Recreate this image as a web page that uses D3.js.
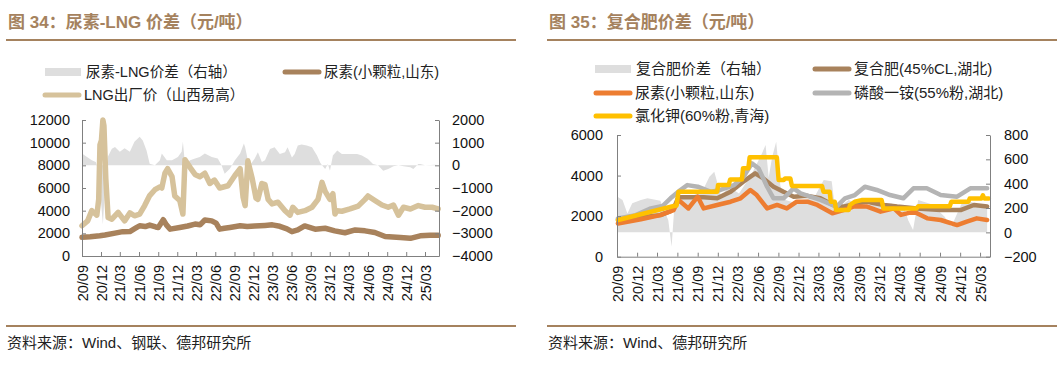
<!DOCTYPE html>
<html>
<head>
<meta charset="utf-8">
<script src="https://cdn.jsdelivr.net/npm/d3@7"></script>
<style>
  body { margin: 0; background: #fff; }
  svg text { font-family: "Liberation Sans", "Noto Sans CJK SC", sans-serif; }
  .axis path, .axis line { stroke: #808080; }
</style>
</head>
<body>
<svg id="chart" width="1063" height="366"></svg>
<script>
// ---- shared tick labels ----
var xTickLabels = ["20/09","20/12","21/03","21/06","21/09","21/12","22/03","22/06","22/09",
                   "22/12","23/03","23/06","23/09","23/12","24/03","24/06","24/09","24/12","25/03"];

// ---- figure 34: urea vs LNG ----
var leftTicks34 = [0, 2000, 4000, 6000, 8000, 10000, 12000];
var rightTicks34 = [-4000, -3000, -2000, -1000, 0, 1000, 2000];
var legendLabels34 = ["尿素-LNG价差（右轴）", "尿素(小颗粒,山东)", "LNG出厂价（山西易高）"];

var spread34 = [
  ["2020-09-01",520],["2020-09-25",370],["2020-10-18",220],["2020-11-06",150],["2020-11-20",-300],
  ["2020-11-30",-1500],["2020-12-10",-2600],["2020-12-15",-1800],["2020-12-24",-300],["2021-01-04",400],
  ["2021-01-22",735],["2021-02-06",810],["2021-03-01",600],["2021-03-24",750],["2021-04-18",600],
  ["2021-05-10",1040],["2021-06-04",1260],["2021-06-19",1100],["2021-07-07",650],["2021-07-22",75],
  ["2021-08-16",0],["2021-09-09",220],["2021-09-18",520],["2021-10-12",220],["2021-11-06",220],
  ["2021-12-04",370],["2021-12-22",600],["2021-12-28",1040],["2022-01-07",75],["2022-02-01",220],
  ["2022-02-24",300],["2022-03-19",370],["2022-04-12",520],["2022-05-15",370],["2022-06-13",300],
  ["2022-07-01",0],["2022-07-16",-370],["2022-08-10",-150],["2022-09-03",220],["2022-09-28",520],
  ["2022-10-16",960],["2022-10-22",800],["2022-11-04",220],["2022-11-14",0],["2022-12-07",300],
  ["2022-12-22",580],["2023-01-10",150],["2023-01-25",220],["2023-02-18",725],["2023-03-12",800],
  ["2023-04-06",500],["2023-05-01",580],["2023-05-13",800],["2023-06-03",350],["2023-06-16",500],
  ["2023-07-01",870],["2023-07-19",920],["2023-08-13",870],["2023-09-07",800],["2023-10-01",430],
  ["2023-10-16",130],["2023-10-25",0],["2023-11-09",-160],["2023-11-22",60],["2023-12-02",-240],
  ["2023-12-16",430],["2024-01-06",650],["2024-01-28",500],["2024-02-21",500],["2024-03-16",500],
  ["2024-04-10",500],["2024-05-03",430],["2024-06-01",280],["2024-06-25",60],["2024-07-19",0],
  ["2024-08-13",-240],["2024-09-06",-160],["2024-10-01",-40],["2024-10-25",0],["2024-11-18",-40],
  ["2024-12-21",-90],["2025-01-04",-160],["2025-01-28",60],["2025-02-06",60],["2025-03-01",0],
  ["2025-03-25",15],["2025-04-18",30],["2025-05-03",15]
];

var urea34 = [
  ["2020-09-01",1650],["2020-10-10",1700],["2020-11-25",1780],["2020-12-20",1850],["2021-02-06",2020],
  ["2021-03-15",2150],["2021-04-18",2160],["2021-05-15",2450],["2021-06-04",2670],["2021-07-01",2600],
  ["2021-07-22",2730],["2021-08-20",2560],["2021-09-01",2520],["2021-09-25",3200],["2021-10-10",2750],
  ["2021-10-28",2370],["2021-12-13",2520],["2022-01-20",2650],["2022-02-24",2820],["2022-03-20",2750],
  ["2022-04-12",3170],["2022-05-15",3100],["2022-06-05",2900],["2022-06-22",2370],["2022-07-15",2450],
  ["2022-08-10",2520],["2022-09-28",2670],["2022-11-01",2600],["2022-12-07",2640],["2023-01-25",2700],
  ["2023-03-01",2750],["2023-04-06",2620],["2023-05-10",2400],["2023-06-03",2150],["2023-07-01",2300],
  ["2023-08-03",2650],["2023-09-22",2370],["2023-11-09",2450],["2023-12-25",2220],["2024-02-12",2050],
  ["2024-04-01",2300],["2024-05-18",2220],["2024-07-04",2070],["2024-08-22",1720],["2024-11-03",1630],
  ["2024-12-21",1560],["2025-02-06",1780],["2025-03-25",1840],["2025-05-03",1820]
];

var lng34 = [
  ["2020-09-01",2670],["2020-09-28",3100],["2020-10-18",4000],["2020-11-11",3600],["2020-11-20",5000],
  ["2020-11-26",9800],["2020-12-03",10200],["2020-12-10",12000],["2020-12-15",11500],["2020-12-24",6800],
  ["2021-01-04",3400],["2021-01-22",3250],["2021-02-21",3850],["2021-03-24",3100],["2021-04-18",3800],
  ["2021-05-10",3550],["2021-06-04",3700],["2021-06-28",4450],["2021-07-22",5330],["2021-08-16",5850],
  ["2021-09-09",6100],["2021-09-18",6000],["2021-10-03",7300],["2021-10-16",7700],["2021-11-06",7000],
  ["2021-11-19",5300],["2021-12-13",4900],["2021-12-28",3700],["2022-01-07",8500],["2022-02-01",7800],
  ["2022-02-24",7200],["2022-03-19",7000],["2022-04-12",7300],["2022-05-06",6400],["2022-05-28",6700],
  ["2022-06-22",6000],["2022-08-01",6200],["2022-09-03",7100],["2022-09-28",7700],["2022-10-12",5200],
  ["2022-10-22",4440],["2022-11-04",8400],["2022-11-24",6900],["2022-12-13",5100],["2022-12-22",5000],
  ["2023-01-10",6400],["2023-01-25",6300],["2023-02-09",5000],["2023-02-28",4600],["2023-03-28",4750],
  ["2023-05-01",4000],["2023-05-25",3600],["2023-06-07",4300],["2023-07-01",3850],["2023-08-04",4000],
  ["2023-09-07",4300],["2023-10-06",5000],["2023-10-25",6500],["2023-11-09",5700],["2023-12-02",5000],
  ["2023-12-16",5500],["2023-12-26",3700],["2024-01-04",4000],["2024-01-28",3950],["2024-03-07",4150],
  ["2024-04-15",4400],["2024-05-18",5000],["2024-06-01",5300],["2024-07-04",4900],["2024-08-07",4500],
  ["2024-09-06",4300],["2024-10-01",4500],["2024-10-25",3600],["2024-11-18",4300],["2024-12-21",4150],
  ["2025-01-28",4450],["2025-03-01",4300],["2025-04-04",4300],["2025-05-03",4150]
];

// ---- figure 35: compound fertilizer ----
var leftTicks35 = [0, 2000, 4000, 6000];
var rightTicks35 = [-200, 0, 200, 400, 600, 800];
var legendLabels35 = ["复合肥价差（右轴）", "复合肥(45%CL,湖北)", "尿素(小颗粒,山东)",
                      "磷酸一铵(55%粉,湖北)", "氯化钾(60%粉,青海)"];

var spread35 = [
  ["2020-09-05",290],["2020-09-26",265],["2020-10-18",156],["2020-11-09",240],["2020-12-18",265],
  ["2021-01-17",280],["2021-03-16",260],["2021-04-21",100],["2021-05-06",-118],["2021-05-21",280],
  ["2021-06-12",293],["2021-08-10",300],["2021-09-25",348],["2021-10-24",457],["2021-11-15",498],
  ["2021-12-15",300],["2022-01-21",375],["2022-03-07",320],["2022-05-05",485],["2022-06-19",650],
  ["2022-07-05",718],["2022-07-19",450],["2022-08-04",621],["2022-08-22",745],["2022-09-10",380],
  ["2022-10-03",265],["2022-11-02",250],["2022-12-17",265],["2023-02-08",280],["2023-03-25",430],
  ["2023-04-30",420],["2023-05-16",183],["2023-07-16",265],["2023-09-13",210],["2023-11-12",238],
  ["2024-01-26",238],["2024-03-26",183],["2024-04-10",100],["2024-05-02",19],["2024-05-25",265],
  ["2024-07-24",230],["2024-09-22",128],["2024-10-22",46],["2024-12-06",230],["2025-01-20",250],
  ["2025-04-02",200]
];

var compound35 = [
  ["2020-09-05",1810],["2020-12-18",1950],["2021-03-16",2050],["2021-05-01",2250],["2021-05-20",2500],
  ["2021-06-06",2930],["2021-09-28",2930],["2021-11-28",2880],["2022-01-28",3200],["2022-03-26",3700],
  ["2022-05-19",4110],["2022-06-25",3860],["2022-08-10",3450],["2022-09-24",3200],["2022-11-09",2960],
  ["2023-01-10",3000],["2023-03-10",2880],["2023-05-07",2550],["2023-06-22",2470],["2023-08-22",2630],
  ["2023-10-07",2710],["2023-12-22",2550],["2024-02-20",2470],["2024-05-20",2380],["2024-09-04",2300],
  ["2024-12-03",2300],["2025-02-01",2550],["2025-04-02",2470]
];

var urea35 = [
  ["2020-09-05",1640],["2020-12-18",1850],["2021-03-16",2050],["2021-05-15",2300],["2021-06-06",2800],
  ["2021-07-21",2380],["2021-09-01",2960],["2021-09-28",2380],["2021-11-28",2550],["2022-01-28",2710],
  ["2022-03-14",2880],["2022-04-27",3290],["2022-05-26",3040],["2022-07-12",2380],["2022-08-26",2550],
  ["2022-10-09",2380],["2022-11-23",2710],["2023-01-10",2710],["2023-02-24",2550],["2023-05-03",2140],
  ["2023-06-22",2300],["2023-08-06",2470],["2023-10-07",2470],["2023-12-07",2220],["2024-02-06",2380],
  ["2024-03-08",2060],["2024-05-06",2220],["2024-07-05",1890],["2024-09-04",1810],["2024-11-17",1560],
  ["2024-12-31",1730],["2025-02-14",1890],["2025-04-02",1810]
];

var map35 = [
  ["2020-09-05",1890],["2020-11-25",2050],["2021-02-01",2380],["2021-03-26",2500],["2021-05-01",2880],
  ["2021-06-15",3290],["2021-07-16",3530],["2021-09-01",3450],["2021-10-31",3200],["2021-12-13",3290],
  ["2022-02-12",3530],["2022-03-28",3950],["2022-05-04",4600],["2022-06-03",4360],["2022-07-12",3450],
  ["2022-08-10",2880],["2022-09-24",2880],["2022-11-09",3370],["2022-12-10",3120],["2023-03-10",2800],
  ["2023-05-22",2470],["2023-06-29",2880],["2023-08-13",3040],["2023-09-27",3450],["2023-11-20",3290],
  ["2024-01-19",3040],["2024-03-19",2880],["2024-05-04",3370],["2024-07-03",3370],["2024-09-04",3040],
  ["2024-11-17",2960],["2025-01-16",3370],["2025-04-02",3370]
];

var kcl35 = [
  ["2020-09-06",1810],["2021-05-16",2500],["2021-05-28",2520],["2021-06-06",3200],["2021-11-28",3200],
  ["2021-12-02",3530],["2022-01-19",3530],["2022-01-26",3810],["2022-03-20",3810],["2022-03-25",4360],
  ["2022-04-18",4360],["2022-04-24",4900],["2022-08-25",4900],["2022-09-02",3780],["2022-09-25",3780],
  ["2022-10-01",3860],["2022-10-25",3860],["2022-11-01",3490],["2023-03-17",3490],["2023-03-24",3200],
  ["2023-04-21",3200],["2023-04-26",2710],["2023-05-14",2710],["2023-05-20",2300],["2023-07-16",2300],
  ["2023-07-22",2550],["2023-08-12",2710],["2023-09-12",2790],["2023-12-12",2790],["2023-12-20",2380],
  ["2024-05-18",2380],["2024-05-26",2490],["2024-10-15",2490],["2024-10-22",2710],["2025-01-07",2710],
  ["2025-01-13",2870],["2025-03-07",2870],["2025-03-14",3030],["2025-03-20",2870],["2025-04-10",2870]
];

// ---------------------------------------------------------------
var TITLE_COLOR = "#a5825e";
var parseDate = d3.timeParse("%Y-%m-%d");
var parseTick = d3.timeParse("%y/%m");
var svg = d3.select("#chart");

function drawPanel(p) {
	var g = svg.append("g");

	// title and rules
	g.append("text")
		.attr("x", p.titleX)
		.attr("y", 28)
		.attr("fill", TITLE_COLOR)
		.attr("font-size", 17)
		.attr("font-weight", "bold")
		.text(p.title);
	g.append("line")
		.attr("x1", p.ruleX[0]).attr("x2", p.ruleX[1])
		.attr("y1", 40).attr("y2", 40)
		.attr("stroke", TITLE_COLOR).attr("stroke-width", 2);
	g.append("line")
		.attr("x1", p.ruleX[0]).attr("x2", p.ruleX[1])
		.attr("y1", 326).attr("y2", 326)
		.attr("stroke", TITLE_COLOR).attr("stroke-width", 2);
	g.append("text")
		.attr("x", p.titleX - 1)
		.attr("y", 348)
		.attr("fill", "#222")
		.attr("font-size", 15)
		.text(p.source);

	// scales
	var x = d3.scaleTime().domain(p.xDomain.map(parseDate)).range([p.left, p.right]);
	var yL = d3.scaleLinear().domain(p.leftDomain).range([p.bottom, p.top]);
	var yR = d3.scaleLinear().domain(p.rightDomain).range([p.bottom, p.top]);

	// spread area on right axis
	var area = d3.area()
		.x(function(d) { return x(parseDate(d[0])); })
		.y0(yR(0))
		.y1(function(d) { return yR(d[1]); });
	g.append("path")
		.datum(p.spread)
		.attr("d", area)
		.attr("fill", "#dedede");

	// price lines on left axis
	var line = d3.line()
		.x(function(d) { return x(parseDate(d[0])); })
		.y(function(d) { return yL(d[1]); });
	p.lines.forEach(function(s) {
		g.append("path")
			.datum(s.data)
			.attr("d", line)
			.attr("fill", "none")
			.attr("stroke", s.color)
			.attr("stroke-width", s.width)
			.attr("stroke-linejoin", "round")
			.attr("stroke-linecap", "round");
	});

	// axes
	var ax = g.append("g").attr("class", "axis")
		.attr("transform", "translate(0," + p.bottom + ")")
		.call(d3.axisBottom(x)
			.tickValues(xTickLabels.map(parseTick))
			.tickFormat(d3.timeFormat("%y/%m"))
			.tickSize(-4).tickSizeOuter(0));
	ax.selectAll("text")
		.attr("transform", "rotate(-90)")
		.attr("x", -9).attr("y", 0).attr("dy", "0.35em")
		.attr("text-anchor", "end");

	g.append("g").attr("class", "axis")
		.attr("transform", "translate(" + p.left + ",0)")
		.call(d3.axisLeft(yL).tickValues(p.leftTicks).tickFormat(d3.format("d"))
			.tickSize(-4).tickSizeOuter(0).tickPadding(p.padL));
	g.append("g").attr("class", "axis")
		.attr("transform", "translate(" + p.right + ",0)")
		.call(d3.axisRight(yR).tickValues(p.rightTicks).tickFormat(d3.format("d"))
			.tickSize(-4).tickSizeOuter(0).tickPadding(p.padR));

	g.selectAll(".axis text")
		.attr("font-size", 14.5)
		.attr("fill", "#111")
		.style("font-family", '"Liberation Sans", sans-serif');

	// legend
	p.legend.forEach(function(l) {
		if (l.kind == "area") {
			g.append("rect")
				.attr("x", l.x).attr("y", l.y - 4)
				.attr("width", 36).attr("height", 8)
				.attr("fill", "#dedede");
		} else {
			g.append("line")
				.attr("x1", l.x + 2).attr("x2", l.x + 36)
				.attr("y1", l.y).attr("y2", l.y)
				.attr("stroke", l.color).attr("stroke-width", 5)
				.attr("stroke-linecap", "round");
		}
		g.append("text")
			.attr("x", l.x + 41)
			.attr("y", l.y)
			.attr("dy", "0.36em")
			.attr("font-size", p.legendSize)
			.attr("fill", "#222")
			.text(l.label);
	});
}

drawPanel({
	title: "图 34：尿素-LNG 价差（元/吨）",
	source: "资料来源：Wind、钢联、德邦研究所",
	titleX: 8, ruleX: [6, 516],
	left: 82, right: 439, top: 120, bottom: 256,
	xDomain: ["2020-09-01", "2025-05-07"],
	leftDomain: [0, 12000], rightDomain: [-4000, 2000],
	leftTicks: leftTicks34, rightTicks: rightTicks34,
	padL: 12, padR: 13,
	legendSize: 14.5,
	spread: spread34,
	lines: [
		{ data: lng34, color: "#d6c29b", width: 5.5 },
		{ data: urea34, color: "#a8825c", width: 5.5 }
	],
	legend: [
		{ label: legendLabels34[0], kind: "area", x: 45, y: 72 },
		{ label: legendLabels34[1], kind: "line", color: "#a8825c", x: 283, y: 72 },
		{ label: legendLabels34[2], kind: "line", color: "#d6c29b", x: 43, y: 95 }
	]
});

drawPanel({
	title: "图 35：复合肥价差（元/吨）",
	source: "资料来源：Wind、德邦研究所",
	titleX: 549, ruleX: [547, 1057],
	left: 617, right: 990, top: 135, bottom: 256.7,
	xDomain: ["2020-09-01", "2025-04-15"],
	leftDomain: [0, 6000], rightDomain: [-200, 800],
	leftTicks: leftTicks35, rightTicks: rightTicks35,
	padL: 14, padR: 14,
	legendSize: 15,
	spread: spread35,
	lines: [
		{ data: compound35, color: "#a8825c", width: 4.5 },
		{ data: urea35, color: "#ed7d31", width: 4.5 },
		{ data: map35, color: "#b4b4b4", width: 4.5 },
		{ data: kcl35, color: "#ffc000", width: 4.5 }
	],
	legend: [
		{ label: legendLabels35[0], kind: "area", x: 595, y: 69 },
		{ label: legendLabels35[1], kind: "line", color: "#a8825c", x: 813, y: 69 },
		{ label: legendLabels35[2], kind: "line", color: "#ed7d31", x: 594, y: 93 },
		{ label: legendLabels35[3], kind: "line", color: "#b4b4b4", x: 813, y: 93 },
		{ label: legendLabels35[4], kind: "line", color: "#ffc000", x: 594, y: 116 }
	]
});
</script>
</body>
</html>
